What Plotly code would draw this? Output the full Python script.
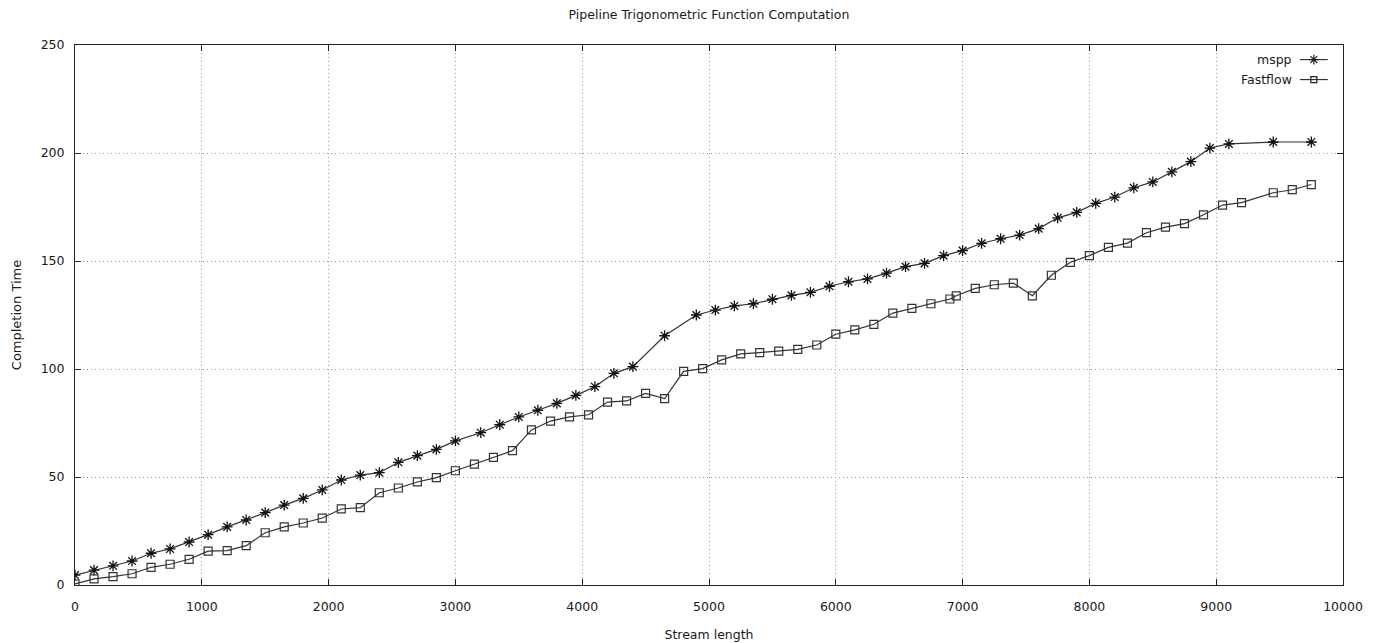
import plotly.graph_objects as go

title = "Pipeline Trigonometric Function Computation"
x_label = "Stream length"
y_label = "Completion Time"

mspp_x = [0, 150, 300, 450, 600, 750, 900, 1050, 1200, 1350, 1500, 1650, 1800, 1950, 2100,
          2250, 2400, 2550, 2700, 2850, 3000, 3200, 3350, 3500, 3650, 3800, 3950, 4100, 4250,
          4400, 4650, 4900, 5050, 5200, 5350, 5500, 5650, 5800, 5950, 6100, 6250, 6400, 6550,
          6700, 6850, 7000, 7150, 7300, 7450, 7600, 7750, 7900, 8050, 8200, 8350, 8500, 8650,
          8800, 8950, 9100, 9450, 9750]
mspp_y = [4.6, 6.9, 8.9, 11.1, 14.7, 16.7, 19.9, 23.3, 26.9, 30.1, 33.5, 37.0, 40.1, 44.0, 48.6,
          50.9, 52.0, 56.8, 59.9, 62.8, 66.7, 70.5, 74.2, 77.8, 80.9, 84.1, 87.8, 91.8, 98.0,
          101.1, 115.4, 125.0, 127.3, 129.2, 130.2, 132.3, 134.1, 135.5, 138.3, 140.4, 141.7,
          144.4, 147.4, 148.9, 152.5, 154.8, 158.2, 160.3, 162.0, 165.0, 170.0, 172.5, 176.7,
          179.6, 183.9, 186.6, 191.3, 196.0, 202.3, 204.2, 205.1, 205.1]

ff_x = [0, 150, 300, 450, 600, 750, 900, 1050, 1200, 1350, 1500, 1650, 1800, 1950, 2100, 2250,
        2400, 2550, 2700, 2850, 3000, 3150, 3300, 3450, 3600, 3750, 3900, 4050, 4200, 4350, 4500,
        4650, 4800, 4950, 5100, 5250, 5400, 5550, 5700, 5850, 6000, 6150, 6300, 6450, 6600, 6750,
        6900, 6950, 7100, 7250, 7400, 7550, 7700, 7850, 8000, 8150, 8300, 8450, 8600, 8750, 8900,
        9050, 9200, 9450, 9600, 9750]
ff_y = [0.5, 2.8, 3.9, 5.2, 8.2, 9.6, 11.9, 15.7, 15.9, 18.2, 24.2, 26.9, 28.7, 31.0, 35.2, 35.8,
        42.7, 44.9, 47.7, 49.7, 52.9, 56.0, 59.1, 62.2, 71.8, 75.9, 77.8, 78.8, 84.7, 85.2, 88.7,
        86.3, 98.9, 100.2, 104.2, 107.0, 107.6, 108.3, 109.1, 111.1, 116.1, 118.1, 120.7, 125.9,
        128.1, 130.2, 132.4, 133.9, 137.3, 139.0, 139.8, 133.9, 143.4, 149.4, 152.5, 156.3, 158.3,
        163.1, 165.7, 167.3, 171.4, 175.9, 177.0, 181.6, 183.0, 185.4]

series_names = ["mspp", "Fastflow"]
series_symbols = ["asterisk-open", "square-open"]

line_col = "#333333"
font_fam = "DejaVu Sans, sans-serif"
txt_col = "#1a1a1a"

fig = go.Figure()
fig.add_trace(go.Scatter(x=mspp_x, y=mspp_y, mode="lines+markers", name=series_names[0],
                         line=dict(color=line_col, width=1.2),
                         marker=dict(symbol=series_symbols[0], size=9, color="#111111",
                                     line=dict(color="#111111", width=1.3)),
                         showlegend=False))
fig.add_trace(go.Scatter(x=ff_x, y=ff_y, mode="lines+markers", name=series_names[1],
                         line=dict(color=line_col, width=1.2),
                         marker=dict(symbol=series_symbols[1], size=8, color="#333333",
                                     line=dict(color="#333333", width=1.2)),
                         showlegend=False))

# gnuplot-style legend (text left of sample) on an overlay axis in [0,1]
leg_rows = [0.973, 0.936]
for name, sym, yy, sz in zip(series_names, series_symbols, leg_rows, [8, 6]):
    fig.add_trace(go.Scatter(x=[0.966, 0.988], y=[yy, yy], xaxis="x2", yaxis="y2",
                             mode="lines", line=dict(color=line_col, width=1.2),
                             showlegend=False, hoverinfo="skip"))
    fig.add_trace(go.Scatter(x=[0.977], y=[yy], xaxis="x2", yaxis="y2", mode="markers",
                             marker=dict(symbol=sym, size=sz, color="#222222",
                                         line=dict(color="#222222", width=1.2)),
                             showlegend=False, hoverinfo="skip"))
    fig.add_annotation(x=0.961, y=yy, xref="x2", yref="y2", text=name, showarrow=False,
                       xanchor="right", yanchor="middle",
                       font=dict(family=font_fam, size=12.5, color=txt_col))

axis_common = dict(showline=True, linecolor="#222222", linewidth=1, mirror="ticks",
                   ticks="inside", ticklen=6, tickcolor="#222222", showgrid=True,
                   gridcolor="#999999", griddash="1px,3px", gridwidth=1, zeroline=False,
                   tickformat="d", automargin=False,
                   tickfont=dict(family=font_fam, size=12.5, color=txt_col))

fig.update_layout(
    width=1382, height=643,
    margin=dict(l=75, r=39, t=45, b=58),
    paper_bgcolor="white", plot_bgcolor="white",
    title=dict(text=title, x=0.513, xanchor="center", y=0.977, yanchor="middle",
               font=dict(family=font_fam, size=12.5, color=txt_col)),
    xaxis=dict(range=[0, 10000], dtick=1000, tick0=0,
               title=dict(text=x_label, standoff=17,
                          font=dict(family=font_fam, size=12.5, color=txt_col)),
               ticklabelstandoff=10,
               **axis_common),
    yaxis=dict(range=[0, 250], dtick=50, tick0=0,
               title=dict(text=y_label, standoff=16,
                          font=dict(family=font_fam, size=13, color=txt_col)),
               ticklabelstandoff=7,
               **axis_common),
    xaxis2=dict(range=[0, 1], overlaying="x", visible=False, anchor="y2"),
    yaxis2=dict(range=[0, 1], overlaying="y", visible=False, anchor="x2"),
    showlegend=False,
)

fig.write_html("out.html")
